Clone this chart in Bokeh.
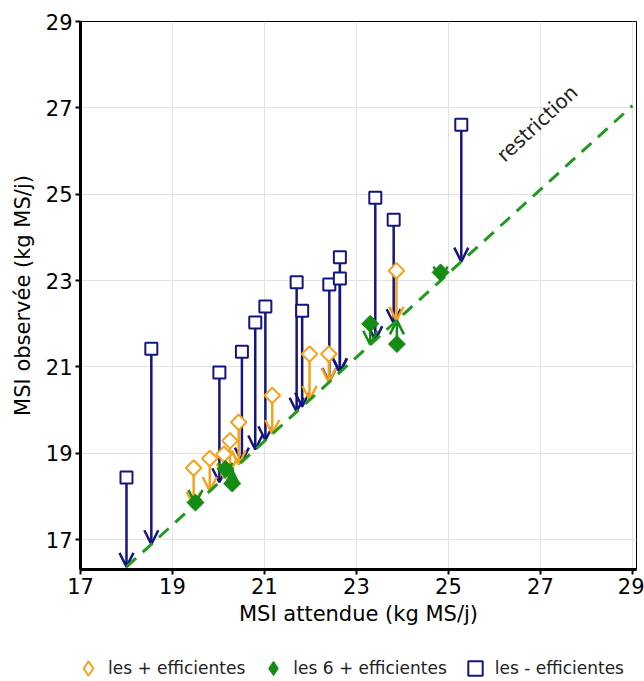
import numpy as np
from bokeh.plotting import figure
from bokeh.layouts import column
from bokeh.models import (ColumnDataSource, Arrow, OpenHead, Legend, LegendItem,
                          FixedTicker, Range1d)
from bokeh.core.properties import value
from bokeh.embed import file_html
from bokeh.resources import INLINE

# ---- data ----
blue_x = [18.00, 18.54, 20.02, 20.51, 20.80, 21.02, 21.70, 21.82, 22.41, 22.64, 22.64, 23.41, 23.81, 25.28]
blue_y = [18.44, 21.42, 20.87, 21.35, 22.03, 22.40, 22.96, 22.30, 22.91, 23.05, 23.54, 24.92, 24.41, 26.61]

orange_x = [19.46, 19.81, 20.12, 20.25, 20.44, 21.17, 21.98, 22.40, 23.87]
orange_y = [18.66, 18.88, 18.98, 19.29, 19.72, 20.34, 21.30, 21.30, 23.23]

green_x = [19.50, 20.15, 20.30, 23.30, 23.88, 24.83]
green_y = [17.86, 18.64, 18.30, 22.00, 21.53, 23.19]

restriction_x = [18.00, 29.00]
restriction_y = [16.37, 27.05]

ticks = [17, 19, 21, 23, 25, 27, 29]
labels = ["les + efficientes", "les 6 + efficientes", "les - efficientes"]

BLUE = "#15157f"
ORANGE = "#f5a21b"
GREEN = "#148c14"
FONT = "DejaVu Sans"

p = figure(width=644, height=640, output_backend="svg", toolbar_location=None,
           x_range=Range1d(17, 29.09), y_range=Range1d(16.31, 29.0),
           min_border_left=80, min_border_right=8, min_border_top=21, min_border_bottom=71)

p.outline_line_color = "black"
p.outline_line_width = 1
for ax in (p.xaxis[0], p.yaxis[0]):
    ax.ticker = FixedTicker(ticks=ticks)
    ax.axis_line_width = 3
    ax.axis_line_color = "black"
    ax.major_tick_line_width = 2
    ax.major_tick_out = 5
    ax.major_tick_in = 0
    ax.minor_tick_line_color = None
    ax.major_label_text_font = FONT
    ax.major_label_text_font_size = "21px"
    ax.major_label_text_color = "black"
    ax.axis_label_text_font = FONT
    ax.axis_label_text_font_size = "21px"
    ax.axis_label_text_font_style = "normal"
    ax.axis_label_text_color = "black"
    ax.major_label_standoff = 3
p.xaxis.axis_label_standoff = 5
p.yaxis.axis_label_standoff = 8
p.xaxis.axis_label = "MSI attendue (kg MS/j)"
p.yaxis.axis_label = "MSI observée (kg MS/j)"
p.xgrid.ticker = FixedTicker(ticks=ticks)
p.ygrid.ticker = FixedTicker(ticks=ticks)
p.grid.grid_line_color = "#e3e3e3"
p.grid.grid_line_width = 1

# restriction line
p.line(restriction_x, restriction_y, line_color="#1f9a1f", line_width=3, line_dash="13 9")
p.text(x=[26.93], y=[26.64], text=["restriction"], angle=0.745, text_align="center",
       text_baseline="middle", text_font=value(FONT), text_font_size="20px", text_color="#222222")


def arrows(xs, ys, color):
    ends = np.interp(xs, restriction_x, restriction_y)
    src = ColumnDataSource(dict(x0=xs, y0=ys, x1=xs, y1=ends))
    a = Arrow(x_start="x0", y_start="y0", x_end="x1", y_end="y1", source=src,
              line_color=color, line_width=2.5,
              end=OpenHead(size=14, line_color=color, line_width=2.5), level="underlay")
    p.add_layout(a)


arrows(blue_x, blue_y, BLUE)
arrows(orange_x, orange_y, ORANGE)
arrows(green_x, green_y, GREEN)

p.scatter(blue_x, blue_y, marker="square", size=12, fill_color="white",
          line_color=BLUE, line_width=2)
p.scatter(orange_x, orange_y, marker="square", angle=np.pi / 4, size=11,
          fill_color="white", line_color=ORANGE, line_width=2)
p.scatter(green_x, green_y, marker="square", angle=np.pi / 4, size=12,
          fill_color=GREEN, line_color=GREEN, line_width=1)

# legend strip below the chart
q = figure(width=644, height=40, output_backend="svg", toolbar_location=None,
           x_range=Range1d(0, 1), y_range=Range1d(0, 1), min_border=0)
q.axis.visible = False
q.grid.visible = False
q.outline_line_color = None
lo = q.scatter([-5], [-5], marker="diamond", fill_color="white", line_color=ORANGE, line_width=2)
lg = q.scatter([-5], [-5], marker="diamond", fill_color=GREEN, line_color=GREEN, line_width=1)
lb = q.scatter([-5], [-5], marker="square", fill_color="white", line_color=BLUE, line_width=2)
legend = Legend(items=[LegendItem(label=labels[0], renderers=[lo]),
                       LegendItem(label=labels[1], renderers=[lg]),
                       LegendItem(label=labels[2], renderers=[lb])],
                orientation="horizontal", location=(-10, -8),
                label_text_font=FONT, label_text_font_size="17px", label_text_color="#222222",
                border_line_color=None, background_fill_alpha=0,
                glyph_width=36, glyph_height=40, label_standoff=2, spacing=10,
                padding=0, margin=0)
q.add_layout(legend)

open("out.html", "w").write(file_html(column(p, q, spacing=0), INLINE))
